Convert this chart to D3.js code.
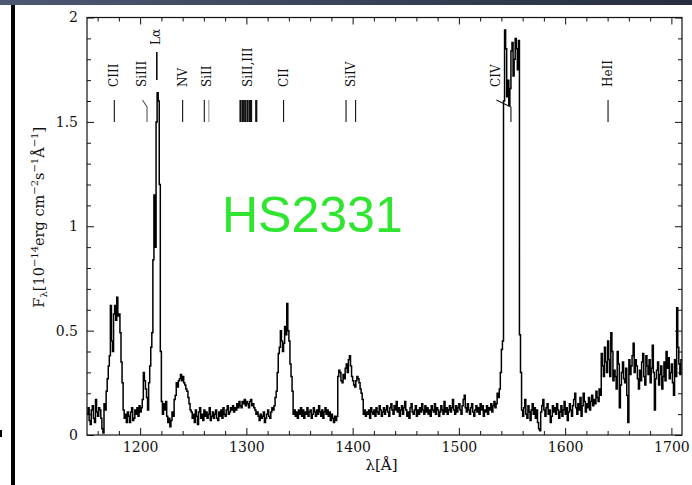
<!DOCTYPE html>
<html>
<head>
<meta charset="utf-8">
<script src="https://cdn.jsdelivr.net/npm/d3@7"></script>
<style>
  html, body { margin: 0; padding: 0; background: #fff; }
  svg { display: block; }
</style>
</head>
<body>
<svg id="chart" width="692" height="485"></svg>
<script>
// UV spectrum of HS2331, binned every 1 Å starting at 1150 Å
const lambdaStart = 1150;
const binWidth = 1;
const flux = [
  0.10, 0.13, 0.07, 0.05, 0.12, 0.14, 0.08, 0.06, 0.17, 0.11, 0.09, 0.13, 0.12, 0.08, 0.03, 0.01, 0.15, 0.12, 0.21, 0.27, // 1150
  0.33, 0.38, 0.62, 0.45, 0.40, 0.58, 0.62, 0.55, 0.66, 0.57, 0.58, 0.49, 0.35, 0.25, 0.12, 0.08, 0.10, 0.06, 0.11, 0.09, // 1170
  0.06, 0.11, 0.13, 0.07, 0.08, 0.12, 0.10, 0.13, 0.09, 0.14, 0.11, 0.13, 0.17, 0.30, 0.26, 0.22, 0.18, 0.12, 0.25, 0.33, // 1190
  0.42, 0.49, 0.84, 1.15, 0.90, 1.50, 1.64, 1.60, 1.20, 0.40, 0.16, 0.10, 0.15, 0.12, 0.16, 0.09, 0.06, 0.08, 0.04, 0.07, // 1210
  0.11, 0.09, 0.17, 0.19, 0.25, 0.23, 0.26, 0.27, 0.29, 0.26, 0.28, 0.25, 0.24, 0.22, 0.21, 0.18, 0.15, 0.12, 0.11, 0.08, // 1230
  0.10, 0.06, 0.12, 0.09, 0.05, 0.11, 0.13, 0.08, 0.10, 0.07, 0.12, 0.09, 0.11, 0.08, 0.10, 0.13, 0.07, 0.09, 0.11, 0.08, // 1250
  0.10, 0.12, 0.08, 0.07, 0.11, 0.09, 0.12, 0.08, 0.13, 0.10, 0.09, 0.12, 0.14, 0.10, 0.11, 0.13, 0.12, 0.14, 0.11, 0.13, // 1270
  0.12, 0.15, 0.13, 0.16, 0.14, 0.13, 0.16, 0.15, 0.17, 0.14, 0.16, 0.15, 0.13, 0.16, 0.17, 0.14, 0.15, 0.13, 0.12, 0.10, // 1290
  0.11, 0.09, 0.07, 0.10, 0.08, 0.09, 0.11, 0.06, 0.08, 0.10, 0.12, 0.09, 0.08, 0.11, 0.13, 0.12, 0.14, 0.18, 0.21, 0.30, // 1310
  0.39, 0.42, 0.50, 0.45, 0.40, 0.44, 0.52, 0.48, 0.63, 0.50, 0.45, 0.34, 0.28, 0.21, 0.10, 0.12, 0.09, 0.11, 0.08, 0.12, // 1330
  0.10, 0.13, 0.09, 0.12, 0.08, 0.11, 0.10, 0.13, 0.09, 0.11, 0.12, 0.08, 0.10, 0.13, 0.11, 0.09, 0.12, 0.10, 0.14, 0.11, // 1350
  0.09, 0.12, 0.08, 0.11, 0.13, 0.10, 0.12, 0.09, 0.11, 0.07, 0.10, 0.08, 0.06, 0.09, 0.07, 0.09, 0.28, 0.31, 0.30, 0.26, // 1370
  0.25, 0.29, 0.27, 0.32, 0.34, 0.30, 0.36, 0.38, 0.33, 0.28, 0.26, 0.24, 0.23, 0.26, 0.28, 0.27, 0.25, 0.22, 0.20, 0.17, // 1390
  0.10, 0.12, 0.09, 0.11, 0.10, 0.12, 0.08, 0.13, 0.11, 0.10, 0.12, 0.09, 0.13, 0.11, 0.10, 0.14, 0.12, 0.09, 0.11, 0.13, // 1410
  0.10, 0.12, 0.14, 0.11, 0.09, 0.13, 0.15, 0.12, 0.10, 0.14, 0.12, 0.16, 0.11, 0.13, 0.09, 0.12, 0.14, 0.10, 0.13, 0.16, // 1430
  0.12, 0.09, 0.11, 0.08, 0.13, 0.15, 0.11, 0.10, 0.12, 0.14, 0.09, 0.12, 0.10, 0.13, 0.11, 0.15, 0.12, 0.10, 0.14, 0.11, // 1450
  0.13, 0.10, 0.12, 0.09, 0.14, 0.12, 0.11, 0.15, 0.10, 0.13, 0.12, 0.09, 0.11, 0.14, 0.12, 0.10, 0.16, 0.11, 0.13, 0.10, // 1470
  0.12, 0.14, 0.11, 0.13, 0.17, 0.12, 0.10, 0.14, 0.11, 0.13, 0.15, 0.12, 0.10, 0.14, 0.17, 0.19, 0.13, 0.11, 0.15, 0.12, // 1490
  0.10, 0.13, 0.15, 0.11, 0.09, 0.12, 0.14, 0.11, 0.13, 0.10, 0.15, 0.12, 0.14, 0.09, 0.12, 0.11, 0.14, 0.10, 0.13, 0.12, // 1510
  0.15, 0.11, 0.14, 0.16, 0.13, 0.15, 0.20, 0.18, 0.22, 0.30, 0.41, 0.45, 1.60, 1.94, 1.85, 1.62, 1.70, 1.58, 1.66, 1.84, // 1530
  1.88, 1.72, 1.80, 1.90, 1.85, 1.75, 1.89, 0.48, 0.30, 0.12, 0.09, 0.13, 0.17, 0.10, 0.08, 0.14, 0.11, 0.07, 0.12, 0.15, // 1550
  0.10, 0.13, 0.08, 0.12, 0.06, 0.03, 0.02, 0.11, 0.14, 0.17, 0.12, 0.09, 0.13, 0.15, 0.10, 0.12, 0.06, 0.09, 0.14, 0.11, // 1570
  0.13, 0.10, 0.15, 0.12, 0.08, 0.11, 0.14, 0.09, 0.12, 0.16, 0.10, 0.13, 0.07, 0.11, 0.15, 0.12, 0.09, 0.14, 0.17, 0.20, // 1590
  0.13, 0.10, 0.15, 0.12, 0.18, 0.09, 0.14, 0.20, 0.16, 0.11, 0.15, 0.13, 0.18, 0.12, 0.16, 0.19, 0.14, 0.17, 0.15, 0.21, // 1610
  0.18, 0.16, 0.22, 0.19, 0.39, 0.33, 0.28, 0.42, 0.35, 0.30, 0.45, 0.36, 0.28, 0.49, 0.40, 0.26, 0.31, 0.28, 0.22, 0.40, // 1630
  0.34, 0.13, 0.24, 0.30, 0.35, 0.27, 0.25, 0.32, 0.19, 0.06, 0.36, 0.29, 0.33, 0.38, 0.44, 0.30, 0.36, 0.33, 0.27, 0.22, // 1650
  0.31, 0.26, 0.35, 0.39, 0.28, 0.24, 0.38, 0.33, 0.29, 0.36, 0.25, 0.32, 0.43, 0.30, 0.12, 0.27, 0.31, 0.35, 0.24, 0.29, // 1670
  0.33, 0.22, 0.28, 0.35, 0.26, 0.40, 0.32, 0.37, 0.27, 0.30, 0.34, 0.25, 0.19, 0.36, 0.28, 0.61, 0.42, 0.34, 0.29, 0.36  // 1690
];

const xMajorTicks = [1200, 1300, 1400, 1500, 1600, 1700];
const yMajorTicks = [0, 0.5, 1, 1.5, 2];

// Identified emission lines: label and rest wavelengths (Å)
const lineLabels = ["CIII", "SiIII", "Lα", "NV", "SiII", "SiII,III", "CII", "SiIV", "CIV", "HeII"];
const lineWavelengths = [
  [1175.7], [1206.5], [1215.7], [1240.0], [1260.4, 1264.7],
  [1294.5, 1296.7, 1298.9, 1301.1, 1303.3, 1304.4, 1309.3],
  [1335.0], [1393.8, 1402.8], [1549.0], [1640.4]
];

const svg = d3.select("#chart");
const W = 692, H = 485;
const margin = { left: 87, right: 10, top: 17.5, bottom: 50 };

// frame decoration: dark band on top, black bar on the left
const defs = svg.append("defs");
const grad = defs.append("linearGradient").attr("id", "band").attr("x1", 0).attr("x2", 1);
grad.append("stop").attr("offset", 0).attr("stop-color", "#4d5873");
grad.append("stop").attr("offset", 1).attr("stop-color", "#262d40");
svg.append("rect").attr("x", 0).attr("y", 0).attr("width", W).attr("height", 5).attr("fill", "url(#band)");
svg.append("rect").attr("x", 11).attr("y", 5).attr("width", 4).attr("height", H - 5).attr("fill", "#000");
svg.append("rect").attr("x", 0).attr("y", 430).attr("width", 2).attr("height", 7).attr("fill", "#000");

const x = d3.scaleLinear().domain([1150, 1710]).range([margin.left, W - margin.right]);
const y = d3.scaleLinear().domain([0, 2]).range([H - margin.bottom, margin.top]);

const x0 = x.range()[0], x1 = x.range()[1];
const yb = y.range()[0], yt = y.range()[1];

defs.append("clipPath").attr("id", "plotClip")
  .append("rect").attr("x", x0).attr("y", yt).attr("width", x1 - x0).attr("height", yb - yt);

const tickFont = "'DejaVu Serif', 'Liberation Serif', serif";

function styleAxis(g) {
  g.select(".domain").remove();
  g.selectAll(".tick line").attr("stroke", "#111").attr("stroke-width", 1);
  g.selectAll(".tick text").attr("fill", "#111").style("font-family", tickFont).style("font-size", "14px");
}

const xMinor = d3.range(1160, 1710, 20).filter(v => !xMajorTicks.includes(v));
const yMinor = d3.range(1, 20).map(v => v / 10).filter(v => !yMajorTicks.includes(v));

// bottom axis
svg.append("g").attr("transform", `translate(0,${yb})`)
  .call(d3.axisBottom(x).tickValues(xMajorTicks).tickSize(-7).tickPadding(7).tickFormat(d3.format("d")))
  .call(styleAxis);
svg.append("g").attr("transform", `translate(0,${yb})`)
  .call(d3.axisBottom(x).tickValues(xMinor).tickSize(-4).tickFormat(""))
  .call(styleAxis);
// top axis
svg.append("g").attr("transform", `translate(0,${yt})`)
  .call(d3.axisTop(x).tickValues(xMajorTicks).tickSize(-7).tickFormat(""))
  .call(styleAxis);
svg.append("g").attr("transform", `translate(0,${yt})`)
  .call(d3.axisTop(x).tickValues(xMinor).tickSize(-4).tickFormat(""))
  .call(styleAxis);
// left axis
svg.append("g").attr("transform", `translate(${x0},0)`)
  .call(d3.axisLeft(y).tickValues(yMajorTicks).tickSize(-7).tickPadding(9).tickFormat(d => String(d)))
  .call(styleAxis);
svg.append("g").attr("transform", `translate(${x0},0)`)
  .call(d3.axisLeft(y).tickValues(yMinor).tickSize(-4).tickFormat(""))
  .call(styleAxis);
// right axis
svg.append("g").attr("transform", `translate(${x1},0)`)
  .call(d3.axisRight(y).tickValues(yMajorTicks).tickSize(-7).tickFormat(""))
  .call(styleAxis);
svg.append("g").attr("transform", `translate(${x1},0)`)
  .call(d3.axisRight(y).tickValues(yMinor).tickSize(-4).tickFormat(""))
  .call(styleAxis);

// plot frame
svg.append("rect").attr("x", x0).attr("y", yt).attr("width", x1 - x0).attr("height", yb - yt)
  .attr("fill", "none").attr("stroke", "#111").attr("stroke-width", 1.2);

// spectrum as a step line
const points = flux.map((f, i) => [lambdaStart + i * binWidth, f]);
points.push([lambdaStart + flux.length * binWidth, flux[flux.length - 1]]);
const line = d3.line().x(d => x(d[0])).y(d => y(d[1])).curve(d3.curveStepAfter);
svg.append("path").datum(points)
  .attr("clip-path", "url(#plotClip)")
  .attr("d", line)
  .attr("fill", "none").attr("stroke", "#000").attr("stroke-width", 1.5)
  .attr("stroke-linejoin", "miter");

// line identifications
const idGroup = svg.append("g").style("font-family", tickFont).style("font-size", "12px").attr("fill", "#111");
lineLabels.forEach((label, i) => {
  const wls = lineWavelengths[i];
  const xs = wls.map(w => x(w));
  const cx = (d3.min(xs) + d3.max(xs)) / 2;
  let tickTop = 100, tickBottom = 122, textBottom = 87, textX = cx;
  if (label === "Lα") { tickTop = 52; tickBottom = 80; textBottom = 45; textX = cx - 1; }
  if (label === "SiIII") { textX = cx - 5; }
  if (label === "CIV") { textX = cx - 15; }

  if (label === "SiIII" || label === "CIV") {
    // label sits off to the left; a slanted leader joins it to the line position
    idGroup.append("path")
      .attr("d", `M${textX + 0.5},${tickTop} L${cx},${tickTop + 7} L${cx},${tickBottom}`)
      .attr("fill", "none").attr("stroke", label === "SiIII" ? "#555" : "#111").attr("stroke-width", 1.1);
  } else {
    xs.forEach((xx, k) => {
      idGroup.append("line")
        .attr("x1", xx).attr("x2", xx).attr("y1", tickTop).attr("y2", tickBottom)
        .attr("stroke", (label === "SiII" && k === 1) ? "#999" : "#111")
        .attr("stroke-width", label === "SiII,III" ? 2.2 : (label === "Lα" ? 1.6 : 1.1));
    });
  }
  idGroup.append("text")
    .attr("transform", `translate(${textX + 4},${textBottom}) rotate(-90)`)
    .attr("text-anchor", "start")
    .text(label);
});

// object name
svg.append("text")
  .attr("x", 222).attr("y", 232)
  .style("font-family", "'Liberation Sans', Arial, sans-serif")
  .style("font-size", "50px")
  .attr("fill", "#2fe52f")
  .text("HS2331");

// axis titles
svg.append("text")
  .attr("x", (x0 + x1) / 2 - 3).attr("y", 470)
  .attr("text-anchor", "middle")
  .style("font-family", tickFont).style("font-size", "15px").attr("fill", "#111")
  .text("λ[Å]");

const yTitle = svg.append("text")
  .attr("transform", `translate(44,${(yt + yb) / 2 - 9}) rotate(-90)`)
  .attr("text-anchor", "middle")
  .style("font-family", tickFont).style("font-size", "14.5px").attr("fill", "#111");
yTitle.append("tspan").text("F");
yTitle.append("tspan").attr("dy", 3).style("font-size", "10px").text("λ");
yTitle.append("tspan").attr("dy", -3).text("[10");
yTitle.append("tspan").attr("dy", -6).style("font-size", "10px").text("−14");
yTitle.append("tspan").attr("dy", 6).text("erg cm");
yTitle.append("tspan").attr("dy", -6).style("font-size", "10px").text("−2");
yTitle.append("tspan").attr("dy", 6).text("s");
yTitle.append("tspan").attr("dy", -6).style("font-size", "10px").text("−1");
yTitle.append("tspan").attr("dy", 6).text("Å");
yTitle.append("tspan").attr("dy", -6).style("font-size", "10px").text("−1");
yTitle.append("tspan").attr("dy", 6).text("]");
</script>
</body>
</html>
